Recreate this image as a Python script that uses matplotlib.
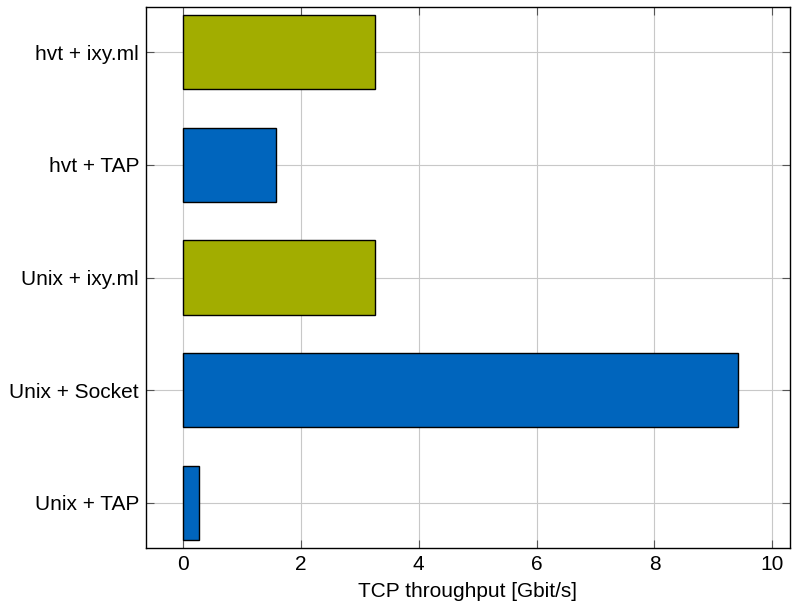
import matplotlib
matplotlib.use('Agg')
import matplotlib.pyplot as plt

plt.rcParams['font.family'] = ['Liberation Sans', 'DejaVu Sans']
plt.rcParams['font.size'] = 15

labels = ['Unix + TAP', 'Unix + Socket', 'Unix + ixy.ml', 'hvt + TAP', 'hvt + ixy.ml']
throughput = [0.27, 9.42, 3.26, 1.58, 3.26]
colors = ['#0065bd', '#0065bd', '#a2ad00', '#0065bd', '#a2ad00']

fig = plt.figure(figsize=(7.92, 6.05), dpi=100)
ax = fig.add_axes([146 / 792, 1 - 548 / 605, (790 - 146) / 792, (548 - 7) / 605])

ax.barh(range(len(labels)), throughput, height=0.66, color=colors,
        edgecolor='black', linewidth=1.0, zorder=3)

ax.set_yticks(range(len(labels)))
ax.set_yticklabels(labels)
ax.set_xticks([0, 2, 4, 6, 8, 10])
ax.set_xlim(-0.63, 10.3)
ax.set_ylim(-0.4, 4.4)
ax.set_xlabel('TCP throughput [Gbit/s]', labelpad=6)

ax.grid(True, color='#c8c8c8', linewidth=0.8, zorder=0)
ax.tick_params(direction='in', top=True, right=True, length=6, width=0.8,
               color='#555555', pad=5)
for s in ax.spines.values():
    s.set_linewidth(1.0)
    s.set_zorder(4)

fig.savefig('out.png', dpi=100)
